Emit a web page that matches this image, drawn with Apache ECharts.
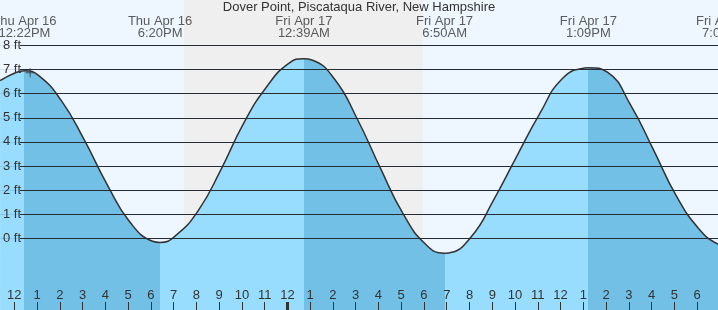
<!DOCTYPE html>
<html>
<head>
<meta charset="utf-8">
<script src="https://cdn.jsdelivr.net/npm/echarts@6/dist/echarts.min.js"></script>
<style>
html,body{margin:0;padding:0;background:#eef7ff;}
#chart{width:718px;height:310px;}
</style>
</head>
<body>
<div id="chart"></div>
<script>
// ---- data (hours counted from Thu Apr 16 12:00 PM) ----
const TITLE = 'Dover Point, Piscataqua River, New Hampshire';
const TIDE_HOURS = [-0.70, 0, 0.37, 1, 2, 3, 4, 5, 6, 6.33, 7, 8, 9, 10, 11, 12, 12.65, 13, 14, 15, 16, 17, 18, 18.83, 19, 20, 21, 22, 23, 24, 25, 25.15, 26, 27, 28, 29, 30, 30.84, 31.13];
const TIDE_FT    = [6.54, 6.88, 6.95, 6.75, 5.70, 4.08, 2.24, 0.68, -0.12, -0.17, 0.10, 1.14, 2.84, 4.77, 6.27, 7.27, 7.45, 7.40, 6.60, 4.94, 2.93, 1.03, -0.25, -0.62, -0.61, 0.06, 1.62, 3.40, 5.15, 6.62, 7.07, 7.08, 6.88, 5.54, 3.69, 1.78, 0.40, -0.24, -0.30];
const EXTREME_HOURS = [0.37, 6.33, 12.65, 18.83, 25.15, 31.13];
const EXTREME_TYPES = ['high', 'low', 'high', 'low', 'high', 'low'];
const EXTREME_DAYS = ['Thu Apr 16', 'Thu Apr 16', 'Fri Apr 17', 'Fri Apr 17', 'Fri Apr 17', 'Fri Apr 17'];
const EXTREME_TIMES = ['12:22PM', '6:20PM', '12:39AM', '6:50AM', '1:09PM', '7:08PM'];
const NIGHT_START = 7.38;   // sunset
const NIGHT_END = 17.87;    // sunrise
const FT_TICKS = [0, 1, 2, 3, 4, 5, 6, 7, 8];
const HOUR_TICKS = [0,1,2,3,4,5,6,7,8,9,10,11,12,13,14,15,16,17,18,19,20,21,22,23,24,25,26,27,28,29,30];
const HOUR_LABELS = ['12','1','2','3','4','5','6','7','8','9','10','11','12','1','2','3','4','5','6','7','8','9','10','11','12','1','2','3','4','5','6'];
const MIDNIGHT_TICK = [12];
const NOW_MARK = [[0.62, 6.87]];

// ---- layout ----
const FONT = "'Liberation Sans', Arial, sans-serif";
const INK = '#333';
const X_MIN = -0.703, X_MAX = 30.844;       // data axis
const XH_MIN = -0.628, XH_MAX = 30.918;     // hour-label axis
const Y_MIN = -2.975, Y_MAX = 9.888;
const LABEL_Y_FT = 8.77;
const LIGHT = '#98dcfe', DARK = '#72c0e6';

const tide = TIDE_HOURS.map((h, i) => [h, TIDE_FT[i]]);

// falling tide (after high, until low) is dark; rising is light
const pieces = [];
let prev = -Infinity;
EXTREME_HOURS.forEach((h, i) => {
  const color = EXTREME_TYPES[i] === 'high' ? LIGHT : DARK;
  const p = { lt: h, color };
  if (prev !== -Infinity) p.gte = prev;
  pieces.push(p);
  prev = h;
});
pieces.push({ gte: prev, color: EXTREME_TYPES[EXTREME_TYPES.length - 1] === 'high' ? DARK : LIGHT });

const chart = echarts.init(document.getElementById('chart'), null, { renderer: 'canvas' });
chart.setOption({
  animation: false,
  backgroundColor: '#eef7ff',
  textStyle: { fontFamily: FONT },
  title: {
    text: TITLE, left: 'center', top: 1, padding: 0,
    textStyle: { fontFamily: FONT, fontSize: 13, fontWeight: 'normal', color: INK }
  },
  grid: [
    { left: 0, right: 0, top: 0, bottom: 0 },
    { left: 20, right: 0, top: 0, bottom: 0 }
  ],
  xAxis: [
    { type: 'value', gridIndex: 0, min: X_MIN, max: X_MAX, show: false },
    {
      type: 'value', gridIndex: 0, min: XH_MIN, max: XH_MAX, position: 'bottom', z: 10,
      axisLine: { show: false }, splitLine: { show: false },
      axisTick: { show: true, inside: true, length: 8, customValues: HOUR_TICKS, lineStyle: { color: INK, width: 1 } },
      axisLabel: {
        show: true, inside: true, margin: 8, customValues: HOUR_TICKS,
        formatter: v => HOUR_LABELS[HOUR_TICKS.indexOf(Math.round(v))] || '',
        color: INK, fontSize: 13, fontFamily: FONT
      }
    },
    {
      type: 'value', gridIndex: 0, min: XH_MIN, max: XH_MAX, position: 'bottom', z: 11,
      axisLine: { show: false }, splitLine: { show: false }, axisLabel: { show: false },
      axisTick: { show: true, inside: true, length: 8, customValues: MIDNIGHT_TICK, lineStyle: { color: INK, width: 3 } }
    },
    { type: 'value', gridIndex: 1, min: 0, max: 1, show: false }
  ],
  yAxis: [
    {
      type: 'value', gridIndex: 0, min: Y_MIN, max: Y_MAX, z: 10,
      axisLine: { show: false }, axisTick: { show: false }, splitLine: { show: false },
      axisLabel: {
        inside: true, margin: 3, customValues: FT_TICKS,
        formatter: v => v + ' ft', color: INK, fontSize: 13, fontFamily: FONT
      }
    },
    { type: 'value', gridIndex: 1, min: Y_MIN, max: Y_MAX, show: false }
  ],
  visualMap: {
    type: 'piecewise', show: false, dimension: 0, seriesIndex: 2, pieces
  },
  series: [
    {
      name: 'night', type: 'line', xAxisIndex: 0, yAxisIndex: 0, data: [], z: 1, silent: true,
      markArea: { silent: true, itemStyle: { color: '#efefef' }, data: [[{ xAxis: NIGHT_START }, { xAxis: NIGHT_END }]] }
    },
    {
      name: 'grid-dark', type: 'line', xAxisIndex: 3, yAxisIndex: 1, data: [], z: 2, silent: true,
      markLine: {
        silent: true, symbol: 'none', label: { show: false },
        lineStyle: { color: '#2b2b2b', width: 1, type: 'solid' },
        data: FT_TICKS.map(v => ({ yAxis: v }))
      }
    },
    {
      name: 'water', type: 'line', xAxisIndex: 0, yAxisIndex: 0, data: tide, z: 3,
      smooth: 0.5, showSymbol: false, silent: true,
      lineStyle: { width: 0 },
      areaStyle: { opacity: 1, origin: 'start' }
    },
    {
      name: 'outline', type: 'line', xAxisIndex: 0, yAxisIndex: 0, data: tide, z: 4,
      smooth: 0.5, showSymbol: false, silent: true,
      lineStyle: { color: '#333', width: 1.5 }
    },
    {
      name: 'grid-faint', type: 'line', xAxisIndex: 0, yAxisIndex: 0, data: [], z: 5, silent: true,
      markLine: {
        silent: true, symbol: 'none', label: { show: false },
        lineStyle: { color: 'rgba(0,60,120,0.12)', width: 1, type: 'solid' },
        data: FT_TICKS.map(v => ({ yAxis: v }))
      }
    },
    {
      name: 'extremes', type: 'scatter', xAxisIndex: 0, yAxisIndex: 0, z: 6, clip: false, silent: true,
      symbol: 'circle', symbolSize: 1, itemStyle: { color: 'rgba(0,0,0,0)' },
      data: EXTREME_HOURS.map(h => [h, LABEL_Y_FT]),
      label: {
        show: true, position: 'inside', align: 'center', verticalAlign: 'middle',
        fontFamily: FONT, fontSize: 13, lineHeight: 12, color: INK,
        formatter: p => EXTREME_DAYS[p.dataIndex] + '\n' + EXTREME_TIMES[p.dataIndex]
      }
    },
    {
      name: 'now', type: 'scatter', xAxisIndex: 0, yAxisIndex: 0, z: 6, silent: true,
      symbol: 'path://M4,0h1v4h4v1h-4v4h-1v-4h-4v-1h4z', symbolSize: 9,
      itemStyle: { color: '#333' }, data: NOW_MARK
    }
  ]
});
</script>
</body>
</html>
